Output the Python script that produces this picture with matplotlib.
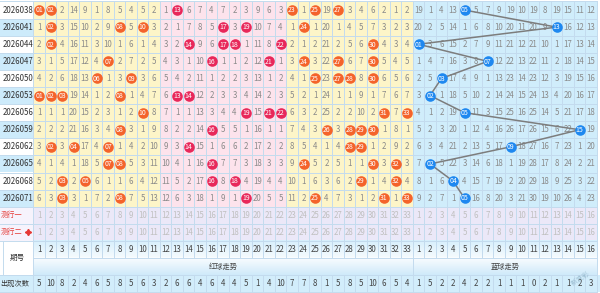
import matplotlib
matplotlib.use("Agg")
import numpy as np
import matplotlib.pyplot as plt
from matplotlib.patches import Rectangle
from matplotlib.colors import LinearSegmentedColormap

plt.rcParams['font.family'] = ['Noto Sans CJK SC', 'DejaVu Sans']

# 期号
periods = ["2026038", "2026041", "2026044", "2026047", "2026050", "2026053",
           "2026056", "2026059", "2026062", "2026065", "2026068", "2026071"]

# red ball omission values, 0 = drawn this period
red_miss = [
    [0, 0, 2, 14, 9, 1, 8, 5, 4, 5, 2, 1, 0, 6, 7, 4, 7, 2, 3, 9, 6, 3, 0, 1, 0, 19, 0, 3, 4, 6, 2, 1, 2],
    [1, 0, 3, 15, 10, 2, 9, 0, 5, 0, 3, 2, 1, 7, 8, 5, 0, 3, 0, 10, 7, 4, 1, 0, 1, 20, 1, 4, 5, 7, 3, 2, 3],
    [2, 0, 4, 16, 11, 3, 10, 1, 6, 1, 4, 3, 2, 0, 9, 6, 0, 0, 1, 11, 8, 0, 2, 1, 2, 21, 2, 5, 6, 0, 4, 3, 4],
    [3, 1, 5, 17, 12, 4, 0, 2, 7, 2, 5, 4, 3, 1, 10, 0, 1, 1, 2, 12, 0, 1, 3, 0, 3, 22, 0, 6, 7, 0, 5, 4, 5],
    [4, 2, 6, 18, 13, 0, 1, 3, 0, 3, 6, 5, 4, 2, 11, 1, 2, 2, 3, 13, 1, 2, 4, 1, 0, 23, 0, 0, 8, 0, 6, 5, 6],
    [0, 0, 0, 19, 14, 1, 2, 0, 1, 4, 7, 6, 0, 0, 12, 2, 3, 3, 4, 14, 2, 3, 5, 2, 1, 24, 1, 1, 9, 1, 7, 6, 7],
    [1, 1, 1, 20, 15, 2, 3, 1, 2, 0, 8, 7, 1, 1, 13, 3, 4, 4, 0, 15, 0, 0, 6, 3, 2, 25, 2, 2, 10, 2, 0, 7, 0],
    [2, 2, 2, 21, 16, 3, 4, 0, 3, 1, 9, 8, 2, 2, 14, 0, 5, 5, 1, 16, 1, 1, 7, 4, 3, 0, 3, 0, 0, 0, 1, 8, 1],
    [3, 0, 3, 0, 17, 4, 0, 1, 4, 2, 10, 9, 3, 0, 15, 1, 6, 6, 2, 17, 2, 2, 8, 5, 4, 1, 4, 0, 0, 1, 2, 9, 2],
    [4, 1, 4, 1, 18, 5, 0, 0, 5, 3, 11, 10, 4, 1, 16, 0, 7, 7, 3, 18, 3, 3, 9, 0, 5, 2, 5, 1, 1, 0, 3, 0, 3],
    [5, 2, 0, 2, 0, 6, 1, 1, 6, 4, 12, 11, 5, 2, 17, 0, 8, 0, 4, 19, 4, 4, 10, 1, 6, 3, 6, 2, 0, 1, 4, 0, 4],
    [6, 3, 0, 3, 1, 7, 2, 0, 7, 5, 13, 12, 6, 3, 18, 1, 9, 1, 0, 20, 5, 5, 11, 2, 0, 4, 7, 3, 1, 2, 0, 1, 0],
]

# blue ball omission values, 0 = drawn
blue_miss = [
    [19, 1, 4, 13, 0, 5, 7, 9, 19, 10, 19, 8, 19, 15, 11, 12],
    [20, 2, 5, 14, 1, 6, 8, 10, 20, 11, 20, 9, 0, 16, 12, 13],
    [0, 3, 6, 15, 2, 7, 9, 11, 21, 12, 21, 10, 1, 17, 13, 14],
    [1, 4, 7, 16, 3, 8, 0, 12, 22, 13, 22, 11, 2, 18, 14, 15],
    [2, 5, 0, 17, 4, 9, 1, 13, 23, 14, 23, 12, 3, 19, 15, 16],
    [3, 0, 1, 18, 5, 10, 2, 14, 24, 15, 24, 13, 4, 20, 16, 17],
    [4, 1, 2, 19, 0, 11, 3, 15, 25, 16, 25, 14, 5, 21, 17, 18],
    [5, 2, 3, 20, 1, 12, 4, 16, 26, 17, 26, 15, 6, 22, 0, 19],
    [6, 3, 4, 21, 2, 13, 5, 17, 0, 18, 27, 16, 7, 23, 1, 20],
    [7, 0, 5, 22, 3, 14, 6, 18, 1, 19, 28, 17, 8, 24, 2, 21],
    [8, 1, 6, 0, 4, 15, 7, 19, 2, 20, 29, 18, 9, 25, 3, 22],
    [9, 2, 7, 1, 0, 16, 8, 20, 3, 21, 30, 19, 10, 26, 4, 23],
]

# 出现次数
red_count = [5, 10, 8, 2, 4, 6, 5, 8, 5, 6, 3, 2, 6, 6, 4, 6, 4, 4, 5, 1, 4, 10, 7, 7, 8, 1, 5, 8, 5, 10, 6, 5, 4]
blue_count = [1, 5, 2, 2, 4, 2, 2, 1, 1, 1, 0, 2, 1, 1, 2, 3]

n_red = len(red_count)
n_blue = len(blue_count)
ncol = n_red + n_blue
nrow = len(periods)

YELLOW = '#fdf5c8'
PINK = '#fde3ec'
BLUEBG = '#d0edfb'
LAV = '#ebe8f8'
GRID = '#c3dbee'
NUM_FS = 5.7
CJK_FS = 5.2

fig = plt.figure(figsize=(6, 2.93), dpi=100)
ax = fig.add_axes([0, 0, 1, 1])
cw = 11.5
rh = 17.1
left = 33.25 / cw
ax.set_xlim(-left, 600 / cw - left)
ax.set_ylim((293 - 1.5) / rh, -1.5 / rh)
ax.axis('off')


def px(x):
    # pixel x -> column units (only used for the label column)
    return (x - 33.25) / cw


# column backgrounds in data area
for j in range(ncol):
    if j >= n_red:
        c = BLUEBG
    elif 11 <= j < 22:
        c = PINK
    else:
        c = YELLOW
    ax.add_patch(Rectangle((j, 0), 1, nrow, color=c, lw=0, zorder=0))

# period column
for r, p in enumerate(periods):
    c = '#cdebfb' if r % 2 == 1 else 'white'
    ax.add_patch(Rectangle((-left, r), left, 1, color=c, lw=0, zorder=0))
    ax.text(px(2.3), r + 0.5, p, ha='left', va='center', fontsize=NUM_FS,
            color='#333333', zorder=3)

# forecast rows
for k, lab in enumerate(["测行一", "测行二"]):
    r = nrow + k
    ax.add_patch(Rectangle((0, r), ncol, 1, color=LAV, lw=0, zorder=0))
    ax.add_patch(Rectangle((-left, r), left, 1, color='#f6f3fc', lw=0, zorder=0))
    ax.text(px(0.6), r + 0.5, lab, ha='left', va='center', fontsize=CJK_FS,
            color='#e53935', zorder=3)
    for j in range(ncol):
        num = j + 1 if j < n_red else j - n_red + 1
        ax.text(j + 0.5, r + 0.5, str(num), ha='center', va='center',
                fontsize=NUM_FS, color='#c0c0c0', zorder=3)
ax.plot([px(28)], [nrow + 1.5], marker=(4, 1, 0), ms=4.5, color='#e53935',
        zorder=3)

# header rows with gradient
r_head = nrow + 2
grad = np.linspace(0, 1, 50).reshape(-1, 1)
cm_down = LinearSegmentedColormap.from_list('d', ['#d6effc', '#f6fbfe'])
cm_up = LinearSegmentedColormap.from_list('u', ['#fbfdff', '#cfeafa'])
ax.imshow(grad, cmap=cm_down, aspect='auto', extent=(0, ncol, r_head + 1, r_head),
          zorder=0)
ax.imshow(grad, cmap=cm_up, aspect='auto', extent=(0, ncol, r_head + 2, r_head + 1),
          zorder=0)
ax.add_patch(Rectangle((-left, r_head), left, 2, color='white', lw=0, zorder=0))
for j in range(ncol):
    num = j + 1 if j < n_red else j - n_red + 1
    ax.text(j + 0.5, r_head + 0.5, str(num), ha='center', va='center',
            fontsize=NUM_FS, color='#444444', zorder=3)
ax.text(px(17.5), r_head + 1, "期号", ha='center', va='center',
        fontsize=CJK_FS + 0.3, color='#333333', zorder=3)
ax.text(n_red / 2, r_head + 1.5, "红球走势", ha='center', va='center',
        fontsize=CJK_FS, color='#444444', zorder=3)
ax.text(n_red + n_blue / 2, r_head + 1.5, "蓝球走势", ha='center', va='center',
        fontsize=CJK_FS, color='#444444', zorder=3)

# count row
r_cnt = nrow + 4
ax.add_patch(Rectangle((-left, r_cnt), left + ncol + 1, 1, color='#d2edfb', lw=0,
                       zorder=0))
ax.text(px(0.5), r_cnt + 0.5, "出现次数", ha='left', va='center',
        fontsize=CJK_FS, color='#333333', zorder=3)
for j, v in enumerate(red_count + blue_count):
    ax.text(j + 0.5, r_cnt + 0.5, str(v), ha='center', va='center',
            fontsize=NUM_FS, color='#444444', zorder=3)

# grid lines
gkw = dict(color=GRID, lw=0.7, zorder=1)
for j in range(ncol + 1):
    ax.plot([j, j], [0, r_head + 1], **gkw)
    ax.plot([j, j], [r_cnt, r_cnt + 1], **gkw)
for j in [0, n_red, ncol]:
    ax.plot([j, j], [r_head + 1, r_head + 2], **gkw)
ax.plot([px(3), px(3)], [r_head, r_head + 2], **gkw)
for r in range(r_cnt + 2):
    x0 = -left if r <= nrow + 2 or r >= r_cnt else 0
    ax.plot([x0, ncol], [r, r], **gkw)

# omission numbers and balls
for r in range(nrow):
    for j in range(n_red):
        v = red_miss[r][j]
        if v == 0:
            c = '#e8285a' if 11 <= j < 22 else '#f4632b'
            ax.scatter(j + 0.5, r + 0.5, s=58, color=c, lw=0, zorder=4)
            ax.text(j + 0.5, r + 0.52, "%02d" % (j + 1), ha='center', va='center',
                    fontsize=5.0, color='white', zorder=5)
        else:
            ax.text(j + 0.5, r + 0.5, str(v), ha='center', va='center',
                    fontsize=NUM_FS, color='#8a8a8a', zorder=3)
    for j in range(n_blue):
        v = blue_miss[r][j]
        if v != 0:
            ax.text(n_red + j + 0.5, r + 0.5, str(v), ha='center', va='center',
                    fontsize=NUM_FS, color='#8a8a8a', zorder=3)

# blue trend line
bx = [n_red + row.index(0) + 0.5 for row in blue_miss]
by = [r + 0.5 for r in range(nrow)]
ax.plot(bx, by, color='#7d7d7d', lw=1.1, zorder=3.5)
ax.scatter(bx, by, s=58, color='#1e88f0', lw=0, zorder=4)
for x, y in zip(bx, by):
    ax.text(x, y + 0.02, "%02d" % int(x - n_red + 0.5), ha='center', va='center',
            fontsize=5.0, color='white', zorder=5)

# watermark
ax.text(n_red + 14.6, r_cnt + 0.2, "新浪彩", rotation=35, ha='center', va='center',
        fontsize=5, color='#8fb3c8', alpha=0.8, zorder=6)

fig.savefig("out.png", dpi=100)
